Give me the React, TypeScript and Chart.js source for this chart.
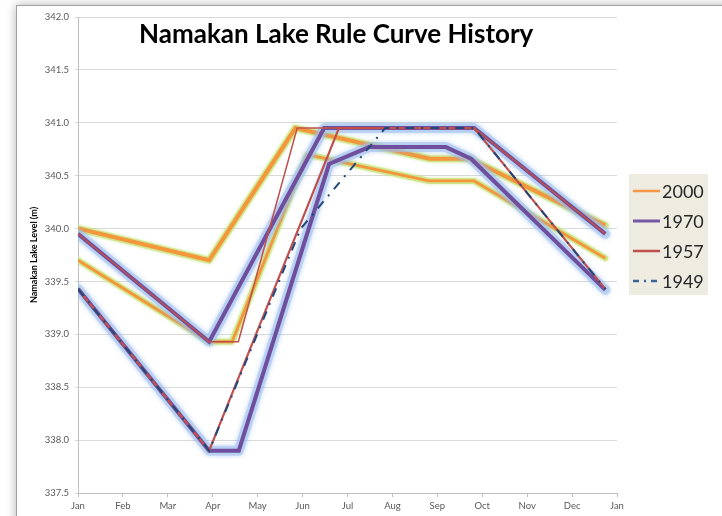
import { useEffect, useRef } from 'react';
import { Chart, registerables } from 'chart.js';

Chart.register(...registerables);

const chartTitle = 'Namakan Lake Rule Curve History';
const yAxisTitle = 'Namakan Lake Level (m)';
const monthLabels = ['Jan', 'Feb', 'Mar', 'Apr', 'May', 'Jun', 'Jul', 'Aug', 'Sep', 'Oct', 'Nov', 'Dec', 'Jan'];

// x = months elapsed since Jan 1, y = lake level (m)
const x2000Upper = [0, 2.92, 4.84, 7.83, 8.72, 11.74];
const y2000Upper = [340.0, 339.7, 340.95, 340.66, 340.66, 340.03];
const x2000Lower = [0, 2.92, 3.43, 5.1, 7.81, 8.82, 11.74];
const y2000Lower = [339.7, 338.93, 338.93, 340.7, 340.45, 340.45, 339.72];

const x1970Upper = [0, 2.92, 5.48, 8.82, 11.74];
const y1970Upper = [339.95, 338.93, 340.95, 340.95, 339.95];
const x1970Lower = [0, 2.92, 3.58, 5.59, 6.48, 8.19, 8.75, 11.74];
const y1970Lower = [339.43, 337.9, 337.9, 340.61, 340.77, 340.77, 340.66, 339.42];

const x1957Upper = [0, 2.92, 3.57, 4.88, 8.82, 11.74];
const y1957Upper = [339.95, 338.93, 338.93, 340.95, 340.95, 339.95];
const x1957Lower = [0, 2.92, 5.81, 8.82, 11.74];
const y1957Lower = [339.43, 337.9, 340.95, 340.95, 339.43];

const x1949 = [0, 2.92, 4.96, 6.84, 8.82, 11.74];
const y1949 = [339.43, 337.9, 340.0, 340.95, 340.95, 339.43];

const legendYears = ['2000', '1970', '1957', '1949'];
const legendColors = ['#F79646', '#7457A6', '#C0504D', '#3B6496'];
const legendWidths = [2.5, 3, 2.5, 2.5];
const legendDashes: number[][] = [[], [], [], [6, 5, 2, 5]];

const ORANGE = '#F5963C';
const ORANGE_GLOW = 'rgba(200,225,120,0.7)';
const PURPLE = '#6F4E9E';
const PURPLE_GLOW = 'rgba(160,192,236,0.55)';
const RED = '#C0504D';
const NAVY = '#1F497D';

const pts = (xs: number[], ys: number[]) => xs.map((x, i) => ({ x, y: ys[i] }));

const FONT = 'Lato, "Open Sans", sans-serif';

const glowPlugin = {
  id: 'glowBlur',
  beforeDatasetDraw(chart: any, args: any) {
    const ds = chart.data.datasets[args.index];
    chart.ctx.save();
    if (ds.glowBlur) {
      chart.ctx.shadowColor = ds.glowShadow;
      chart.ctx.shadowBlur = ds.glowBlur;
    }
  },
  afterDatasetDraw(chart: any) {
    chart.ctx.restore();
  },
};

const decorPlugin = {
  id: 'decor',
  afterDraw(chart: any) {
    const { ctx, chartArea } = chart;
    ctx.save();
    // Title
    ctx.font = `bold 26px ${FONT}`;
    ctx.fillStyle = '#000000';
    ctx.textAlign = 'center';
    ctx.textBaseline = 'alphabetic';
    ctx.fillText(chartTitle, chartArea.left + chartArea.width * 0.479, chartArea.top + 26);

    // Legend
    const bx = chartArea.right + 12;
    const by = chartArea.top + 157;
    const bw = 79;
    const bh = 121;
    ctx.fillStyle = '#EEECE1';
    ctx.fillRect(bx, by, bw, bh);
    ctx.font = `18px ${FONT}`;
    ctx.textAlign = 'left';
    ctx.textBaseline = 'middle';
    legendYears.forEach((label, i) => {
      const yy = by + 17 + i * 30;
      ctx.beginPath();
      ctx.strokeStyle = legendColors[i];
      ctx.lineWidth = legendWidths[i];
      ctx.setLineDash(legendDashes[i]);
      ctx.moveTo(bx + 4, yy);
      ctx.lineTo(bx + 31, yy);
      ctx.stroke();
      ctx.setLineDash([]);
      ctx.fillStyle = '#262626';
      ctx.fillText(label, bx + 33, yy + 1);
    });
    ctx.restore();
  },
};

export default function App() {
  const canvasRef = useRef<HTMLCanvasElement | null>(null);

  useEffect(() => {
    document.body.style.margin = '0';
    const canvas = canvasRef.current;
    if (!canvas) return;

    const line = (data: any, color: string, width: number, order: number, extra: any = {}) => ({
      data,
      borderColor: color,
      backgroundColor: color,
      borderWidth: width,
      pointRadius: 0,
      pointHoverRadius: 0,
      fill: false,
      tension: 0,
      order,
      ...extra,
    });

    const pGlow = { borderJoinStyle: 'round', borderCapStyle: 'round', glowBlur: 5, glowShadow: 'rgba(140,180,235,0.9)' };
    const oGlow = { borderJoinStyle: 'round', borderCapStyle: 'round', glowBlur: 3, glowShadow: 'rgba(190,225,110,0.9)' };

    const chart = new Chart(canvas, {
      type: 'line',
      data: {
        datasets: [
          line(pts(x1949, y1949), NAVY, 2, 1, { label: '1949', borderDash: [9, 7, 2, 7] }),
          line(pts(x1957Upper, y1957Upper), RED, 1.5, 2, { label: '1957' }),
          line(pts(x1957Lower, y1957Lower), RED, 2.2, 2, { label: '1957 lower' }),
          line(pts(x1970Upper, y1970Upper), PURPLE, 4, 3, { label: '1970' }),
          line(pts(x1970Lower, y1970Lower), PURPLE, 4, 3, { label: '1970 lower' }),
          line(pts(x1970Upper, y1970Upper), PURPLE_GLOW, 10, 4, { label: 'g1', ...pGlow }),
          line(pts(x1970Lower, y1970Lower), PURPLE_GLOW, 10, 4, { label: 'g2', ...pGlow }),
          line(pts(x2000Upper, y2000Upper), ORANGE, 4, 5, { label: '2000' }),
          line(pts(x2000Lower, y2000Lower), ORANGE, 2.8, 5, { label: '2000 lower' }),
          line(pts(x2000Upper, y2000Upper), ORANGE_GLOW, 7, 6, { label: 'g3', ...oGlow }),
          line(pts(x2000Lower, y2000Lower), ORANGE_GLOW, 6, 6, { label: 'g4', ...oGlow }),
        ],
      },
      options: {
        responsive: false,
        animation: false,
        devicePixelRatio: 1,
        layout: { padding: { top: 17, right: 105, left: 0, bottom: 0 } },
        plugins: {
          legend: { display: false },
          title: { display: false },
          tooltip: { enabled: false },
        },
        events: [],
        scales: {
          x: {
            type: 'linear',
            min: 0,
            max: 12,
            afterFit: (s: any) => { s.height = 23; },
            afterBuildTicks: (s: any) => {
              s.ticks = monthLabels.map((_, i) => ({ value: i }));
            },
            ticks: {
              autoSkip: false,
              maxRotation: 0,
              padding: 3,
              color: '#595959',
              font: { family: FONT, size: 9.5 },
              callback: (v: any) => monthLabels[Math.round(Number(v))] ?? '',
            },
            grid: { drawOnChartArea: false, drawTicks: true, tickLength: 4, color: '#BFBFBF' },
            border: { display: true, color: '#BFBFBF' },
          },
          y: {
            type: 'linear',
            min: 337.5,
            max: 342,
            afterFit: (s: any) => { s.width = 78; },
            ticks: {
              stepSize: 0.5,
              padding: 6,
              color: '#595959',
              font: { family: FONT, size: 9.5 },
              callback: (v: any) => Number(v).toFixed(1),
            },
            grid: { color: '#D9D9D9', tickLength: 3, drawTicks: true },
            border: { display: true, color: '#BFBFBF' },
            title: {
              display: true,
              text: yAxisTitle,
              color: '#000000',
              font: { family: FONT, size: 9, weight: 'bold' },
              padding: { top: 29, bottom: 0 },
            },
          },
        },
      },
      plugins: [glowPlugin, decorPlugin],
    } as any);

    return () => chart.destroy();
  }, []);

  return (
    <div style={{ position: 'relative', width: 722, height: 516, overflow: 'hidden', background: '#ffffff' }}>
      <div
        style={{
          position: 'absolute',
          left: 16,
          top: 5,
          width: 740,
          height: 540,
          background: '#ffffff',
          border: '1px solid #a0a0a0',
          boxShadow: '0 0 10px rgba(0,0,0,0.3)',
        }}
      />
      <canvas ref={canvasRef} width={722} height={516} style={{ position: 'absolute', left: 0, top: 0 }} />
    </div>
  );
}
